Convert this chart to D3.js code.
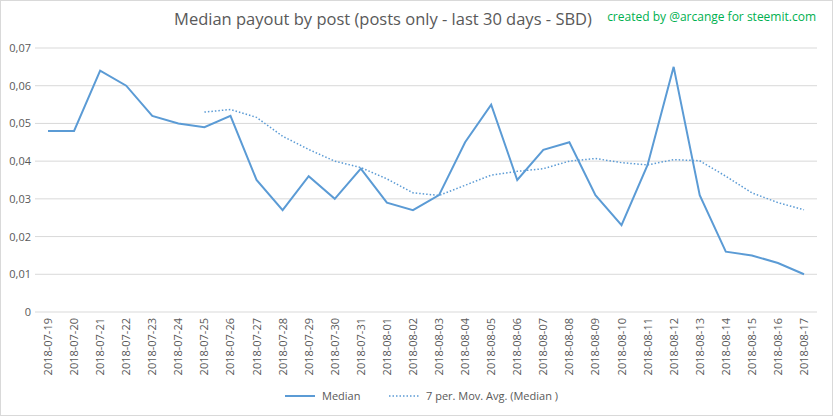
<!DOCTYPE html>
<html><head><meta charset="utf-8">
<script src="https://cdn.jsdelivr.net/npm/d3@7"></script>
<style>body{margin:0;background:#fff}svg{font-family:"Open Sans",Arial,sans-serif}</style>
</head><body>
<script>
var dates = ["2018-07-19","2018-07-20","2018-07-21","2018-07-22","2018-07-23","2018-07-24","2018-07-25","2018-07-26","2018-07-27","2018-07-28","2018-07-29","2018-07-30","2018-07-31","2018-08-01","2018-08-02","2018-08-03","2018-08-04","2018-08-05","2018-08-06","2018-08-07","2018-08-08","2018-08-09","2018-08-10","2018-08-11","2018-08-12","2018-08-13","2018-08-14","2018-08-15","2018-08-16","2018-08-17"];
var median = [0.048,0.048,0.064,0.060,0.052,0.050,0.049,0.052,0.035,0.027,0.036,0.030,0.038,0.029,0.027,0.031,0.045,0.055,0.035,0.043,0.045,0.031,0.023,0.039,0.065,0.031,0.016,0.015,0.013,0.010];
var movAvg = [null,null,null,null,null,null,0.0530,0.0537,0.0516,0.0466,0.0431,0.0400,0.0383,0.0353,0.0316,0.0309,0.0336,0.0363,0.0373,0.0380,0.0400,0.0407,0.0396,0.0390,0.0404,0.0401,0.0360,0.0316,0.0290,0.0271];
var yTicks = [0,0.01,0.02,0.03,0.04,0.05,0.06,0.07];

var W = 833, H = 416;
var svg = d3.select("body").append("svg").attr("width", W).attr("height", H);
svg.append("rect").attr("x",0.5).attr("y",0.5).attr("width",W-1).attr("height",H-1)
  .attr("fill","#fff").attr("stroke","#d9d9d9");

var x = d3.scalePoint().domain(dates).range([48, 804]);
var y = d3.scaleLinear().domain([0, 0.07]).range([312, 48]);

svg.selectAll(".grid").data(yTicks).enter().append("line")
  .attr("x1", 35).attr("x2", 817)
  .attr("y1", d => y(d)).attr("y2", d => y(d))
  .attr("stroke", "#d9d9d9").attr("stroke-width", 1);

svg.selectAll(".yl").data(yTicks).enter().append("text")
  .attr("x", 31).attr("y", d => y(d) + 4).attr("text-anchor", "end")
  .attr("font-size", 11).attr("fill", "#595959")
  .text(d => d === 0 ? "0" : d.toFixed(2).replace(".", ","));

svg.selectAll(".xl").data(dates).enter().append("text")
  .attr("transform", d => "translate(" + (x(d) + 4) + ",318) rotate(-90)")
  .attr("text-anchor", "end").attr("font-size", 11).attr("fill", "#595959")
  .text(d => d);

var line = d3.line().defined(d => d[1] != null).x(d => x(d[0])).y(d => y(d[1]));
svg.append("path").datum(dates.map((d, i) => [d, median[i]]))
  .attr("d", line).attr("fill", "none").attr("stroke", "#5b9bd5").attr("stroke-width", 2);
svg.append("path").datum(dates.map((d, i) => [d, movAvg[i]]))
  .attr("d", line).attr("fill", "none").attr("stroke", "#5b9bd5").attr("stroke-width", 1.5)
  .attr("stroke-dasharray", "1.5,2");

svg.append("text").attr("x", 383).attr("y", 25).attr("text-anchor", "middle")
  .attr("font-size", 16.5).attr("fill", "#595959")
  .text("Median payout by post (posts only - last 30 days - SBD)");
svg.append("text").attr("x", 816).attr("y", 21).attr("text-anchor", "end")
  .attr("font-size", 12).attr("fill", "#00b050")
  .text("created by @arcange for steemit.com");

svg.append("line").attr("x1", 285).attr("x2", 315).attr("y1", 396).attr("y2", 396)
  .attr("stroke", "#5b9bd5").attr("stroke-width", 2);
svg.append("text").attr("x", 322).attr("y", 400).attr("font-size", 11).attr("fill", "#595959").text("Median");
svg.append("line").attr("x1", 389).attr("x2", 419).attr("y1", 396).attr("y2", 396)
  .attr("stroke", "#5b9bd5").attr("stroke-width", 1.5).attr("stroke-dasharray", "1.5,2");
svg.append("text").attr("x", 426).attr("y", 400).attr("font-size", 11).attr("fill", "#595959").text("7 per. Mov. Avg. (Median )");
</script>
</body></html>
